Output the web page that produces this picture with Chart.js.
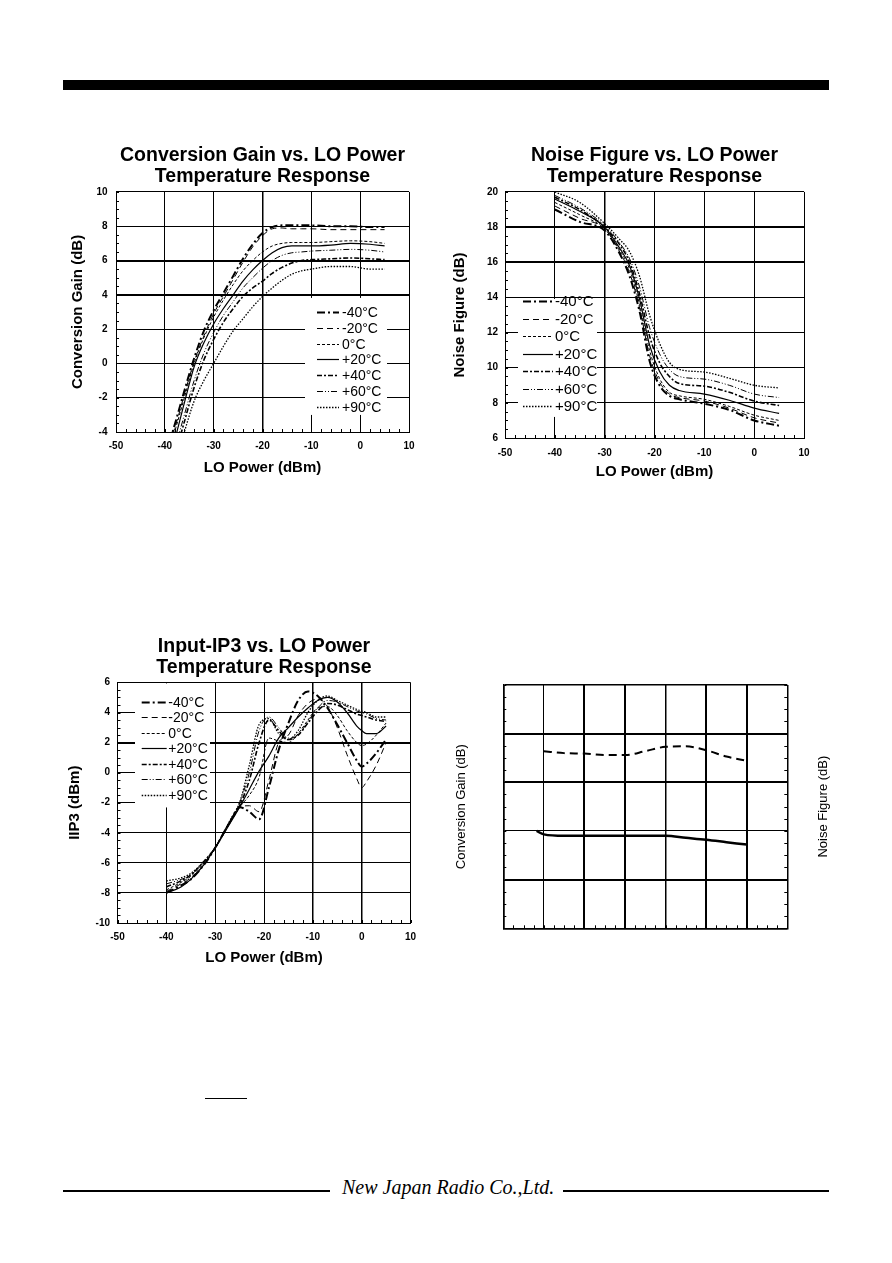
<!DOCTYPE html>
<html>
<head>
<meta charset="utf-8">
<script src="https://cdn.jsdelivr.net/npm/chart.js@4.4.1/dist/chart.umd.min.js"></script>
<style>
  body { margin: 0; background: #fff; }
  #page { position: relative; width: 892px; height: 1263px; background: #fff; overflow: hidden; }
  canvas { position: absolute; }
  .bar { position: absolute; background: #000; }
  #maker { position: absolute; left: 342px; top: 1176px; font: italic 20px "Liberation Serif", serif; color: #000; white-space: nowrap; }
</style>
</head>
<body>
<div id="page">
  <div class="bar" style="left:63px;top:80px;width:766px;height:10px"></div>
  <canvas id="cg" width="405" height="340" style="left:60px;top:140px"></canvas>
  <canvas id="nf" width="429" height="346" style="left:440px;top:140px"></canvas>
  <canvas id="ip" width="408" height="340" style="left:60px;top:631px"></canvas>
  <canvas id="tv" width="410" height="268" style="left:440px;top:670px"></canvas>
  <div class="bar" style="left:205px;top:1098px;width:42px;height:1px"></div>
  <div class="bar" style="left:63px;top:1190px;width:267px;height:2px"></div>
  <div id="maker">New Japan Radio Co.,Ltd.</div>
  <div class="bar" style="left:563px;top:1190px;width:266px;height:2px"></div>
</div>
<script>
// legend labels, shared by the three temperature charts
const temps = ['-40°C', '-20°C', '0°C', '+20°C', '+40°C', '+60°C', '+90°C'];

// ticks
const loTicks = [-50, -40, -30, -20, -10, 0, 10];
const cgTicks = [-4, -2, 0, 2, 4, 6, 8, 10];
const nfTicks = [6, 8, 10, 12, 14, 16, 18, 20];
const ipTicks = [-10, -8, -6, -4, -2, 0, 2, 4, 6];
const tvXTicks = [0, 1, 2, 3, 4, 5, 6, 7];
const tvYTicks = [0, 1, 2, 3, 4, 5];

// Conversion Gain vs LO power
const cgX = [-40, -38, -36, -34, -32, -30, -28, -26, -24, -22, -20, -18, -16, -14, -12, -10, -6, -2, 2, 5];
const cgM40 = [-5.5, -3.6, -1.6, 0.3, 1.9, 3.1, 4.1, 5.1, 6.1, 6.95, 7.6, 7.95, 8.05, 8.05, 8.05, 8.05, 8.0, 8.0, 7.95, 7.95];
const cgM20 = [-5.2, -3.8, -1.8, 0.1, 1.6, 2.9, 3.9, 4.9, 5.9, 6.8, 7.45, 7.85, 7.9, 7.85, 7.85, 7.85, 7.8, 7.8, 7.8, 7.8];
const cg0 = [-5.8, -4.0, -2.0, 0.0, 1.5, 2.7, 3.7, 4.6, 5.4, 6.0, 6.5, 6.85, 7.0, 7.05, 7.05, 7.05, 7.1, 7.15, 7.1, 7.0];
const cgP20 = [-6.5, -4.5, -2.3, -0.2, 1.2, 2.3, 3.2, 4.0, 4.8, 5.45, 6.0, 6.45, 6.75, 6.85, 6.85, 6.85, 6.9, 7.0, 6.95, 6.85];
const cgP40 = [-7.2, -5.4, -3.4, -1.4, 0.2, 1.4, 2.4, 3.2, 3.9, 4.4, 4.8, 5.25, 5.6, 5.85, 6.0, 6.05, 6.1, 6.15, 6.1, 6.05];
const cgP60 = [-6.8, -5.0, -3.0, -1.0, 0.6, 1.8, 2.8, 3.6, 4.4, 5.0, 5.55, 6.0, 6.3, 6.45, 6.5, 6.55, 6.6, 6.65, 6.6, 6.5];
const cgP90 = [-8.0, -6.0, -4.0, -2.2, -1.0, 0.0, 1.0, 1.9, 2.6, 3.3, 3.9, 4.4, 4.85, 5.2, 5.4, 5.5, 5.65, 5.65, 5.5, 5.5];

// Noise Figure vs LO power
const nfX = [-40, -35, -30, -27, -25, -23, -21, -19, -17, -15, -10, -5, 0, 5];
const nfM40 = [19.0, 18.3, 17.8, 16.5, 15.2, 13.2, 10.4, 9.0, 8.4, 8.2, 7.95, 7.6, 7.0, 6.7];
const nfM20 = [19.2, 18.5, 17.9, 16.6, 15.4, 13.4, 10.7, 9.2, 8.5, 8.3, 8.1, 7.7, 7.15, 6.85];
const nf0 = [19.4, 18.7, 17.9, 16.7, 15.6, 13.6, 11.0, 9.4, 8.6, 8.4, 8.2, 7.8, 7.3, 7.0];
const nfP20 = [19.6, 18.9, 18.0, 16.8, 15.8, 13.9, 11.3, 9.8, 9.0, 8.7, 8.5, 8.15, 7.7, 7.4];
const nfP40 = [19.7, 19.0, 18.0, 17.0, 16.0, 14.2, 11.8, 10.3, 9.5, 9.1, 8.95, 8.6, 8.1, 7.85];
const nfP60 = [19.8, 19.1, 18.1, 17.1, 16.2, 14.6, 12.3, 10.8, 9.9, 9.5, 9.35, 9.0, 8.5, 8.3];
const nfP90 = [20.0, 19.4, 18.2, 17.3, 16.6, 15.2, 13.0, 11.4, 10.3, 9.9, 9.75, 9.4, 9.0, 8.85];

// Input IP3 vs LO power
const ipX = [-40, -37, -35, -32, -30, -27, -25, -23, -21, -19, -17, -15, -13, -11, -9, -7, -5, -3, -1, 0, 1, 3, 5];
const ipM40 = [-8.0, -7.5, -7.1, -6.0, -5.0, -3.3, -2.3, -2.6, -3.1, -1.0, 1.5, 3.3, 4.8, 5.4, 5.1, 4.3, 3.2, 2.0, 0.8, 0.4, 0.6, 1.3, 2.2];
const ipM20 = [-7.9, -7.4, -7.0, -6.0, -5.0, -3.3, -2.3, -2.2, -2.6, -0.5, 2.0, 2.5, 3.8, 4.6, 4.9, 4.4, 3.0, 1.2, -0.4, -1.0, -0.6, 0.5, 2.0];
const ip0 = [-7.8, -7.3, -6.9, -5.9, -5.0, -3.3, -2.3, -1.5, -0.3, 2.3, 2.1, 2.0, 2.6, 3.5, 4.3, 4.4, 3.8, 2.8, 2.0, 1.8, 1.9, 2.5, 3.3];
const ipP20 = [-8.0, -7.6, -7.1, -6.0, -5.0, -3.4, -2.3, -1.1, 0.1, 1.1, 2.3, 3.0, 3.7, 4.3, 4.8, 5.0, 4.7, 4.0, 3.1, 2.8, 2.6, 2.6, 3.1];
const ipP40 = [-7.6, -7.2, -6.8, -5.8, -5.0, -3.3, -2.2, -0.5, 2.0, 3.5, 2.8, 2.2, 2.5, 3.3, 4.1, 4.6, 4.5, 4.2, 3.9, 3.8, 3.7, 3.5, 3.4];
const ipP60 = [-7.4, -7.1, -6.8, -5.8, -5.0, -3.2, -2.0, 0.0, 2.8, 3.7, 3.0, 2.3, 2.5, 3.4, 4.3, 4.8, 4.7, 4.4, 4.1, 4.0, 3.9, 3.6, 3.5];
const ipP90 = [-7.2, -7.0, -6.7, -5.8, -5.0, -3.2, -2.0, 0.5, 3.2, 3.6, 2.6, 2.2, 2.8, 4.0, 4.8, 5.1, 4.8, 4.5, 4.2, 4.1, 4.0, 3.7, 3.7];

// unlabelled chart, bottom right (grid units)
const tvX = [0.82, 1, 1.5, 2, 2.5, 3, 3.5, 4, 4.5, 5, 5.5, 6];
const tvGain = [2.0, 1.93, 1.9, 1.9, 1.9, 1.9, 1.9, 1.9, 1.86, 1.82, 1.77, 1.72];
const tvNoise = [null, 3.64, 3.6, 3.59, 3.56, 3.56, 3.64, 3.73, 3.74, 3.66, 3.53, 3.44];

Chart.defaults.font.family = '"Liberation Sans", Arial, sans-serif';
Chart.defaults.color = '#000';
Chart.defaults.animation = false;

// line look per temperature
const styles = [
  { borderWidth: 2, borderDash: [8, 3, 2, 3] },
  { borderWidth: 1, borderDash: [6, 4] },
  { borderWidth: 1, borderDash: [3, 2] },
  { borderWidth: 1.2, borderDash: [] },
  { borderWidth: 1.6, borderDash: [5, 2, 2, 2] },
  { borderWidth: 1, borderDash: [6, 2, 1, 2, 1, 2] },
  { borderWidth: 1.3, borderDash: [1.5, 1.5] }
];

function pts(xs, ys) {
  return xs.map((x, i) => ({ x: x, y: ys[i] }));
}

function tempSets(xs, series) {
  return series.map((ys, i) => Object.assign({
    label: temps[i],
    data: pts(xs, ys),
    borderColor: '#000',
    pointRadius: 0,
    cubicInterpolationMode: 'monotone',
    fill: false
  }, styles[i]));
}

// white box with line samples, inside the plot
const boxLegend = {
  id: 'boxLegend',
  beforeDatasetsDraw(chart, args, o) {
    if (!o || !o.display) return;
    const ctx = chart.ctx, a = chart.chartArea;
    const x0 = a.left + o.left, y0 = a.top + o.top;
    ctx.save();
    ctx.fillStyle = '#fff';
    ctx.fillRect(x0, y0, o.width, o.height);
    ctx.restore();
  },
  afterDatasetsDraw(chart, args, o) {
    if (!o || !o.display) return;
    const ctx = chart.ctx, a = chart.chartArea;
    const x0 = a.left + o.left, y0 = a.top + o.top;
    ctx.save();
    ctx.font = o.font;
    ctx.textBaseline = 'middle';
    ctx.fillStyle = '#000';
    ctx.strokeStyle = '#000';
    chart.data.datasets.forEach((ds, i) => {
      const y = Math.round(y0 + o.first + i * o.row) + 0.5;
      ctx.lineWidth = ds.borderWidth;
      ctx.setLineDash(ds.borderDash);
      ctx.beginPath();
      ctx.moveTo(x0 + o.lineX, y);
      ctx.lineTo(x0 + o.lineX + o.lineLen, y);
      ctx.stroke();
      ctx.setLineDash([]);
      ctx.fillText(ds.label, x0 + o.textX, y + 0.5);
    });
    ctx.restore();
  }
};

// small inward ticks on the frame
const minorTicks = {
  id: 'minorTicks',
  afterDraw(chart, args, o) {
    if (!o || !o.display) return;
    const ctx = chart.ctx, a = chart.chartArea;
    const xs = chart.scales.x, ys = chart.scales.y;
    ctx.save();
    ctx.strokeStyle = '#000';
    ctx.lineWidth = 1;
    ctx.beginPath();
    for (let v = xs.min; v <= xs.max + 1e-9; v += o.x) {
      const px = Math.round(xs.getPixelForValue(v)) + 0.5;
      ctx.moveTo(px, a.bottom);
      ctx.lineTo(px, a.bottom - o.len);
    }
    for (let v = ys.min; v <= ys.max + 1e-9; v += o.y) {
      const py = Math.round(ys.getPixelForValue(v)) + 0.5;
      ctx.moveTo(a.left, py);
      ctx.lineTo(a.left + o.len, py);
      if (o.right) {
        ctx.moveTo(a.right, py);
        ctx.lineTo(a.right - o.len, py);
      }
    }
    ctx.stroke();
    ctx.restore();
  }
};

// second axis title on the right, reading upwards
const rightTitle = {
  id: 'rightTitle',
  afterDraw(chart, args, o) {
    if (!o || !o.text) return;
    const ctx = chart.ctx, a = chart.chartArea;
    ctx.save();
    ctx.translate(a.right + o.offset, (a.top + a.bottom) / 2);
    ctx.rotate(-Math.PI / 2);
    ctx.font = o.font;
    ctx.fillStyle = '#000';
    ctx.textAlign = 'center';
    ctx.textBaseline = 'middle';
    ctx.fillText(o.text, 0, 0);
    ctx.restore();
  }
};

Chart.register(boxLegend, minorTicks, rightTitle);

function widthBy(list) {
  return (c) => {
    const v = c.tick ? c.tick.value : null;
    for (const [val, w] of list) if (v === val) return w;
    return 1;
  };
}

function tempChart(id, cfg) {
  return new Chart(document.getElementById(id), {
    type: 'line',
    data: { datasets: tempSets(cfg.xs, cfg.series) },
    options: {
      responsive: false,
      devicePixelRatio: 1,
      layout: { padding: 0 },
      plugins: {
        legend: { display: false },
        tooltip: { enabled: false },
        title: {
          display: true,
          text: cfg.title,
          font: { size: 19.5, weight: 'bold', lineHeight: 1.07 },
          padding: { top: 5, bottom: cfg.titlePadBottom }
        },
        boxLegend: cfg.legend,
        minorTicks: { display: true, x: 2, y: 0.5, len: 3 }
      },
      scales: {
        x: {
          type: 'linear',
          min: -50, max: 10,
          afterBuildTicks: (s) => { s.ticks = loTicks.map(v => ({ value: v })); },
          afterFit: (s) => { s.height = 48; },
          ticks: { font: { size: 10, weight: 'bold' }, padding: cfg.xTickPad },
          grid: { color: '#000', drawTicks: false, lineWidth: widthBy(cfg.xThick) },
          border: { color: '#000', width: 1 },
          title: {
            display: true, text: 'LO Power (dBm)',
            font: { size: 15, weight: 'bold', lineHeight: 1.2 },
            padding: { top: 0, bottom: cfg.xTitlePad }
          }
        },
        y: {
          type: 'linear',
          min: cfg.yTicks[0], max: cfg.yTicks[cfg.yTicks.length - 1],
          afterBuildTicks: (s) => { s.ticks = cfg.yTicks.map(v => ({ value: v })); },
          afterFit: (s) => { s.width = cfg.yWidth; },
          ticks: { font: { size: 10, weight: 'bold' }, padding: cfg.yTickPad },
          grid: { color: '#000', drawTicks: false, lineWidth: widthBy(cfg.yThick) },
          border: { color: '#000', width: 1 },
          title: {
            display: true, text: cfg.yTitle,
            font: { size: 15, weight: 'bold', lineHeight: 1.2 },
            padding: { top: cfg.yTitlePad, bottom: 0 }
          }
        },
        // empty strip on the right so the title sits centred over the plot
        yPad: {
          type: 'linear', position: 'right', axis: 'y',
          afterFit: (s) => { s.width = cfg.yWidth; },
          ticks: { display: false },
          grid: { display: false },
          border: { display: false }
        }
      }
    }
  });
}

tempChart('cg', {
  title: ['Conversion Gain vs. LO Power', 'Temperature Response'],
  xs: cgX,
  series: [cgM40, cgM20, cg0, cgP20, cgP40, cgP60, cgP90],
  yTicks: cgTicks,
  yTitle: 'Conversion Gain (dB)',
  yWidth: 56, titlePadBottom: 5.2,
  xTickPad: 8, xTitlePad: 3, yTickPad: 8.5, yTitlePad: 9,
  xThick: [[-20, 1.5]], yThick: [[4, 2], [6, 2]],
  legend: { display: true, left: 189, top: 106, width: 82, height: 117, first: 14, row: 15.8,
            lineX: 12, lineLen: 22, textX: 37, font: '14px "Liberation Sans", Arial, sans-serif' }
});

tempChart('nf', {
  title: ['Noise Figure vs. LO Power', 'Temperature Response'],
  xs: nfX,
  series: [nfM40, nfM20, nf0, nfP20, nfP40, nfP60, nfP90],
  yTicks: nfTicks,
  yTitle: 'Noise Figure (dB)',
  yWidth: 65, titlePadBottom: 5.2,
  xTickPad: 9, xTitlePad: 5.3, yTickPad: 7, yTitlePad: 11,
  xThick: [[-30, 1.5]], yThick: [[16, 2], [18, 2]],
  legend: { display: true, left: 13, top: 107, width: 79, height: 118, first: 2.5, row: 17.5,
            lineX: 5, lineLen: 30, textX: 37, font: '15px "Liberation Sans", Arial, sans-serif' }
});

tempChart('ip', {
  title: ['Input-IP3 vs. LO Power', 'Temperature Response'],
  xs: ipX,
  series: [ipM40, ipM20, ip0, ipP20, ipP40, ipP60, ipP90],
  yTicks: ipTicks,
  yTitle: 'IIP3 (dBm)',
  yWidth: 57.5, titlePadBottom: 4.7,
  xTickPad: 8, xTitlePad: 3.7, yTickPad: 7.5, yTitlePad: 6,
  xThick: [[-10, 1.5], [0, 1.5]], yThick: [[2, 2]],
  legend: { display: true, left: 17.5, top: 1, width: 75, height: 124, first: 18.2, row: 15.5,
            lineX: 6.7, lineLen: 25, textX: 33.3, font: '14px "Liberation Sans", Arial, sans-serif' }
});

new Chart(document.getElementById('tv'), {
  type: 'line',
  data: {
    datasets: [
      { label: 'Conversion Gain', data: pts(tvX, tvGain), borderColor: '#000', borderWidth: 2.5,
        pointRadius: 0, cubicInterpolationMode: 'monotone' },
      { label: 'Noise Figure', data: pts(tvX, tvNoise), borderColor: '#000', borderWidth: 2,
        borderDash: [8, 5], pointRadius: 0, cubicInterpolationMode: 'monotone' }
    ]
  },
  options: {
    responsive: false,
    devicePixelRatio: 1,
    layout: { padding: { left: 0, right: 62.7, top: 15, bottom: 0 } },
    plugins: {
      legend: { display: false },
      tooltip: { enabled: false },
      minorTicks: { display: true, x: 0.25, y: 0.25, len: 3, right: true },
      rightTitle: { text: 'Noise Figure (dB)', offset: 36, font: '13px "Liberation Sans", Arial, sans-serif' }
    },
    scales: {
      x: {
        type: 'linear', min: 0, max: 7,
        afterBuildTicks: (s) => { s.ticks = tvXTicks.map(v => ({ value: v })); },
        afterFit: (s) => { s.height = 9.7; },
        ticks: { display: false },
        grid: { color: '#000', drawTicks: false,
                lineWidth: widthBy([[0, 1.5], [2, 2], [3, 2], [4, 1.5], [5, 2], [6, 2], [7, 1.5]]) },
        border: { color: '#000', width: 1.5 }
      },
      y: {
        type: 'linear', min: 0, max: 5,
        afterBuildTicks: (s) => { s.ticks = tvYTicks.map(v => ({ value: v })); },
        afterFit: (s) => { s.width = 63.3; },
        ticks: { display: false },
        grid: { color: '#000', drawTicks: false,
                lineWidth: widthBy([[0, 1.5], [1, 2], [3, 2], [4, 2], [5, 1.5]]) },
        border: { color: '#000', width: 1.5 },
        title: {
          display: true, text: 'Conversion Gain (dB)',
          font: { size: 13, lineHeight: 1.2 },
          padding: { top: 13.9, bottom: 0 }
        }
      }
    }
  }
});
</script>
</body>
</html>
